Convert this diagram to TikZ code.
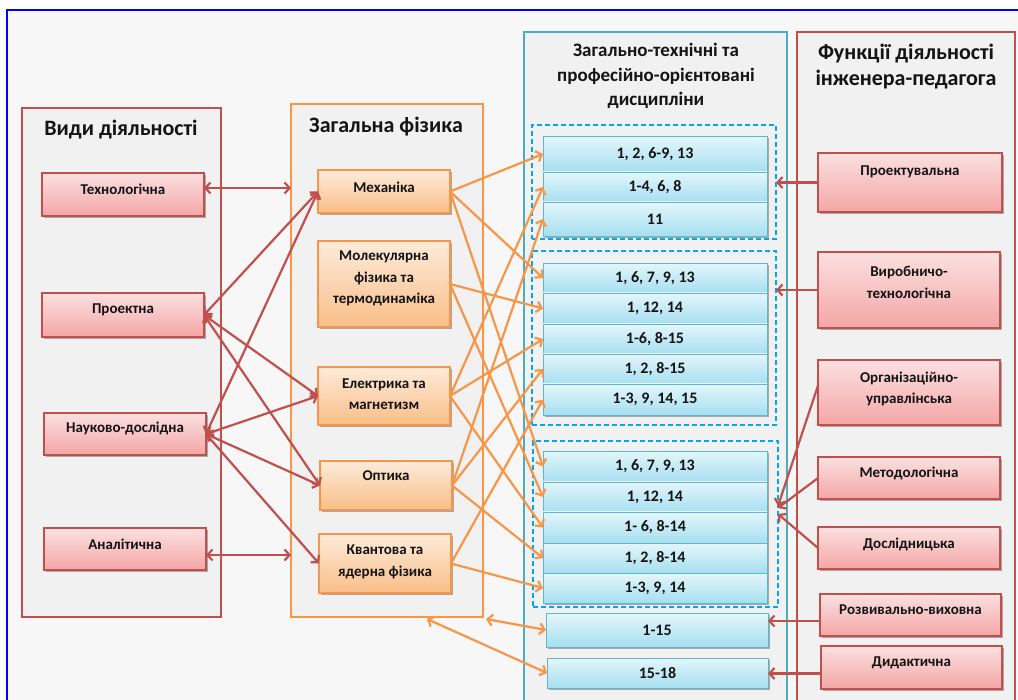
\documentclass[tikz,border=0pt]{standalone}
\usepackage{fontspec}
\setmainfont{Carlito}
\usetikzlibrary{arrows.meta,shadows}
\definecolor{redline}{HTML}{C0504D}
\definecolor{orangeline}{HTML}{F79646}
\definecolor{tealline}{HTML}{4BACC6}
\definecolor{rowline}{HTML}{5DB7CF}
\definecolor{dashblue}{HTML}{00A8EC}
\definecolor{pinktop}{HTML}{FBE0E0}
\definecolor{pinkbot}{HTML}{F4A6A6}
\definecolor{peachtop}{HTML}{FDEBDA}
\definecolor{peachbot}{HTML}{F9BE88}
\definecolor{cyantop}{HTML}{E4F6FB}
\definecolor{cyanbot}{HTML}{A6DFF0}
\definecolor{panelgray}{HTML}{F1F1F1}
\definecolor{pagegray}{HTML}{F7F7F7}
\definecolor{frameblue}{HTML}{0000FF}
\definecolor{ink}{HTML}{141414}
\begin{document}
\begin{tikzpicture}[x=1pt,y=-1pt,
  every node/.style={inner sep=0pt,outer sep=0pt},
  >={Straight Barb[length=5pt,width=11pt]},
  panel/.style={line width=1.6pt,fill=panelgray},
  boxshadow/.style={drop shadow={shadow xshift=1.8pt,shadow yshift=-2.2pt,opacity=0.3,fill=black}},
  redbox/.style={draw=redline,line width=1.1pt,top color=pinktop,bottom color=pinkbot,boxshadow},
  orangebox/.style={draw=orangeline,line width=1.1pt,top color=peachtop,bottom color=peachbot,boxshadow},
  rowbox/.style={draw=rowline,line width=0.9pt,top color=cyantop,bottom color=cyanbot,boxshadow,
    font=\bfseries\fontsize{16}{18}\selectfont,text=ink},
  groupbox/.style={draw=dashblue,line width=1.6pt,dash pattern=on 5pt off 3pt},
  title/.style={font=\bfseries\fontsize{22}{26}\selectfont,align=center,text=ink},
  boxtext/.style={font=\bfseries\fontsize{15}{21.5}\selectfont,align=center,text=ink},
  redarrow/.style={draw=redline,line width=2.2pt},
  orangearrow/.style={draw=orangeline,line width=2.2pt}
]
\useasboundingbox (0,0) rectangle (1018,700);
\clip (0,0) rectangle (1018,700);

% page frame
\draw[frameblue,line width=1.5pt,fill=pagegray] (7,10) rectangle (1040,740);

% column panels
\node[panel,draw=redline,minimum width=199pt,minimum height=509pt] (kinds) at (121.5,362.5) {};
\node[panel,draw=orangeline,minimum width=192pt,minimum height=513pt] (phys) at (387,360.5) {};
\node[panel,draw=tealline,minimum width=263pt,minimum height=700pt] (disc) at (655.5,382) {};
\node[panel,draw=redline,minimum width=218pt,minimum height=700pt] (func) at (906,382) {};

\node[title] (kinds-t) at (121,130) {Види діяльності};
\node[title] (phys-t) at (386,127) {Загальна фізика};
\node[title,font=\bfseries\fontsize{19}{24.5}\selectfont] (disc-t) at (656,76)
  {Загально-технічні та\\професійно-орієнтовані\\дисципліни};
\node[title] (func-t) at (906,67) {Функції діяльності\\інженера-педагога};

% kinds of activity
\node[redbox,minimum width=162pt,minimum height=43pt] (tech) at (123,194.5) {};
\node[boxtext] (tech-t) at (123,189) {Технологічна};
\node[redbox,minimum width=162pt,minimum height=44pt] (proj) at (123,315) {};
\node[boxtext] (proj-t) at (123,310) {Проектна};
\node[redbox,minimum width=162pt,minimum height=42pt] (nauk) at (125,434) {};
\node[boxtext] (nauk-t) at (125,428) {Науково-дослідна};
\node[redbox,minimum width=162pt,minimum height=42pt] (anal) at (125,549) {};
\node[boxtext] (anal-t) at (125,544) {Аналітична};

% general physics
\node[orangebox,minimum width=132pt,minimum height=43pt] (mech) at (384,191.5) {};
\node[boxtext] (mech-t) at (384,187) {Механіка};
\node[orangebox,minimum width=132pt,minimum height=86pt] (mol) at (384,284) {};
\node[boxtext] (mol-t) at (384,278.5) {Молекулярна\\фізика та\\термодинаміка};
\node[orangebox,minimum width=132pt,minimum height=58pt] (elec) at (384,396) {};
\node[boxtext] (elec-t) at (384,394) {Електрика та\\магнетизм};
\node[orangebox,minimum width=132pt,minimum height=49pt] (opt) at (386,485.5) {};
\node[boxtext] (opt-t) at (386,476) {Оптика};
\node[orangebox,minimum width=132pt,minimum height=59pt] (quant) at (385,563.5) {};
\node[boxtext] (quant-t) at (385,562) {Квантова та\\ядерна фізика};

% disciplines, grouped
\node[groupbox,minimum width=244pt,minimum height=114pt] (g1) at (654,182) {};
\node[groupbox,minimum width=244pt,minimum height=174pt] (g2) at (654,338) {};
\node[groupbox,minimum width=245pt,minimum height=166pt] (g3) at (655.5,524) {};

\node[rowbox,minimum width=224pt,minimum height=36pt] (g1r1) at (655,154) {1, 2, 6-9, 13};
\node[rowbox,minimum width=224pt,minimum height=30pt] (g1r2) at (655,187) {1-4, 6, 8};
\node[rowbox,minimum width=224pt,minimum height=34pt] (g1r3) at (655,219) {11};

\node[rowbox,minimum width=224pt,minimum height=30pt] (g2r1) at (655,278) {1, 6, 7, 9, 13};
\node[rowbox,minimum width=224pt,minimum height=31pt] (g2r2) at (655,308.5) {1, 12, 14};
\node[rowbox,minimum width=224pt,minimum height=30pt] (g2r3) at (655,339) {1-6, 8-15};
\node[rowbox,minimum width=224pt,minimum height=30pt] (g2r4) at (655,369) {1, 2, 8-15};
\node[rowbox,minimum width=224pt,minimum height=31pt] (g2r5) at (655,399.5) {1-3, 9, 14, 15};

\node[rowbox,minimum width=224pt,minimum height=31pt] (g3r1) at (655,466.5) {1, 6, 7, 9, 13};
\node[rowbox,minimum width=224pt,minimum height=30pt] (g3r2) at (655,497) {1, 12, 14};
\node[rowbox,minimum width=224pt,minimum height=31pt] (g3r3) at (655,527.5) {1- 6, 8-14};
\node[rowbox,minimum width=224pt,minimum height=30pt] (g3r4) at (655,558) {1, 2, 8-14};
\node[rowbox,minimum width=224pt,minimum height=30pt] (g3r5) at (655,588) {1-3, 9, 14};

\node[rowbox,minimum width=222pt,minimum height=34pt] (r115) at (657,630) {1-15};
\node[rowbox,minimum width=221pt,minimum height=30pt] (r1518) at (657.5,673) {15-18};

% functions of the engineer-teacher
\node[redbox,minimum width=184pt,minimum height=59pt] (proektuv) at (910,182.5) {};
\node[boxtext] (proektuv-t) at (910,172) {Проектувальна};
\node[redbox,minimum width=182pt,minimum height=76pt] (vyrob) at (909,290) {};
\node[boxtext] (vyrob-t) at (909,282.5) {Виробничо-\\технологічна};
\node[redbox,minimum width=182pt,minimum height=65pt] (org) at (909,392.5) {};
\node[boxtext] (org-t) at (909,389) {Організаційно-\\управлінська};
\node[redbox,minimum width=182pt,minimum height=42pt] (metod) at (909,478) {};
\node[boxtext] (metod-t) at (909,473) {Методологічна};
\node[redbox,minimum width=182pt,minimum height=42pt] (doslid) at (909,548) {};
\node[boxtext] (doslid-t) at (909,544) {Дослідницька};
\node[redbox,minimum width=181pt,minimum height=42pt] (rozv) at (910.5,615) {};
\node[boxtext] (rozv-t) at (910.5,610) {Розвивально-виховна};
\node[redbox,minimum width=181pt,minimum height=43pt] (dydakt) at (911.5,667.5) {};
\node[boxtext] (dydakt-t) at (911.5,663) {Дидактична};

% free ends on the physics panel
\coordinate (techIn) at (291,188);
\coordinate (analIn) at (291,555);
\coordinate (physA) at (486,619);
\coordinate (physB) at (427,619);

% activity kinds <-> physics sections
\draw[redarrow,<->] ([yshift=6.5pt]tech.east) -- (techIn);
\draw[redarrow,<->] (proj.east) -- (mech.west);
\draw[redarrow,<->] (proj.east) -- (elec.west);
\draw[redarrow,<->] (proj.east) -- (opt.west);
\draw[redarrow,<->] (nauk.east) -- (mech.west);
\draw[redarrow,<->] (nauk.east) -- (elec.west);
\draw[redarrow,<->] (nauk.east) -- (opt.west);
\draw[redarrow,<->] (nauk.east) -- (quant.west);
\draw[redarrow,<->] ([yshift=-6pt]anal.east) -- (analIn);

% physics sections -> disciplines
\draw[orangearrow,->] (mech.east) -- (g1r1.west);
\draw[orangearrow,->] (mech.east) -- (g2r1.west);
\draw[orangearrow,->] (mech.east) -- (g3r1.west);
\draw[orangearrow,->] (mol.east) -- (g2r2.west);
\draw[orangearrow,->] (mol.east) -- (g3r2.west);
\draw[orangearrow,->] (elec.east) -- (g1r2.west);
\draw[orangearrow,->] (elec.east) -- (g2r3.west);
\draw[orangearrow,->] (elec.east) -- (g3r3.west);
\draw[orangearrow,->] (opt.east) -- (g1r3.west);
\draw[orangearrow,->] (opt.east) -- (g2r4.west);
\draw[orangearrow,->] (opt.east) -- (g3r4.west);
\draw[orangearrow,->] (quant.east) -- (g2r5.west);
\draw[orangearrow,->] (quant.east) -- (g3r5.west);
\draw[orangearrow,<->] (physA) -- (r115.west);
\draw[orangearrow,<->] (physB) -- (r1518.west);

% functions -> disciplines
\draw[redarrow,->] (proektuv.west) -- (proektuv.west -| g1.east);
\draw[redarrow,->] (vyrob.west) -- (vyrob.west -| g2.east);
\draw[redarrow,->] ([yshift=7pt]org.west) -- ([yshift=18pt]g3.east);
\draw[redarrow,->] (metod.west) -- ([yshift=16pt]g3.east);
\draw[redarrow,->] (doslid.west) -- ([yshift=10pt]g3.east);
\draw[redarrow,->] ([yshift=-6pt]rozv.west) -- ([yshift=-6pt]rozv.west -| r115.east);
\draw[redarrow,->] ([yshift=-6pt]dydakt.west) -- ([yshift=-6pt]dydakt.west -| r1518.east);
\end{tikzpicture}
\end{document}
